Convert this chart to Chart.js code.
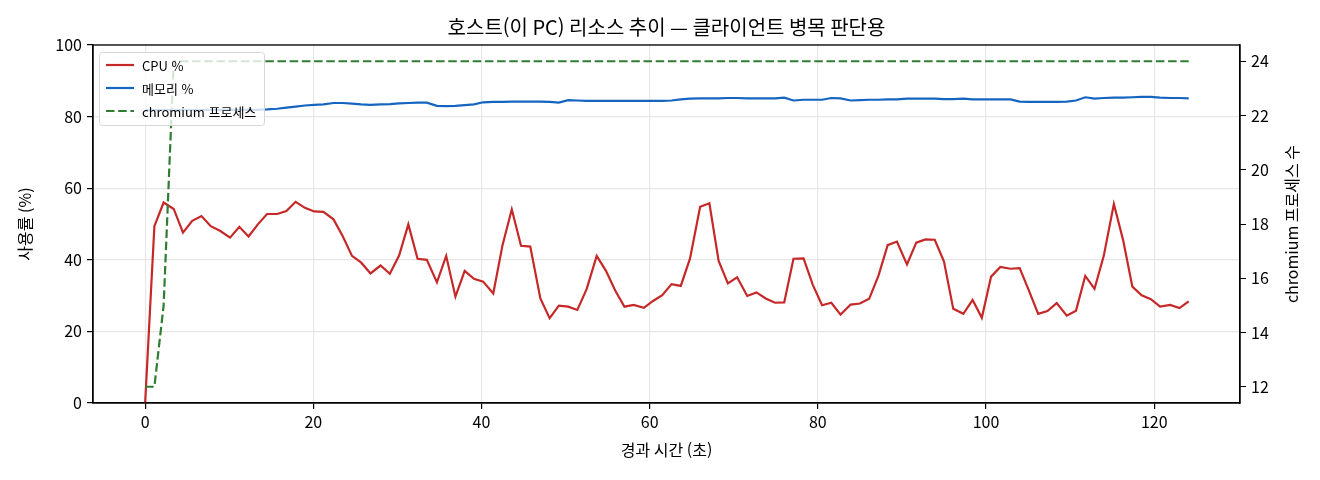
<!DOCTYPE html>
<html lang="ko">
<head>
<meta charset="utf-8">
<title>호스트(이 PC) 리소스 추이</title>
<script src="https://cdn.jsdelivr.net/npm/chart.js@4.4.1/dist/chart.umd.min.js"></script>
<style>
  html, body { margin: 0; padding: 0; background: #fff; }
  #wrap { width: 1320px; height: 480px; }
</style>
</head>
<body>
<div id="wrap"><canvas id="mycanvas" width="1320" height="480"></canvas></div>
<script>
// 경과 시간 (초) - one sample roughly every 1.1 s
const elapsed = [
  0.0, 1.1, 2.2, 3.4, 4.5, 5.6, 6.7, 7.8, 8.9, 10.1,
  11.2, 12.3, 13.4, 14.5, 15.7, 16.8, 17.9, 19.0, 20.1, 21.2,
  22.4, 23.5, 24.6, 25.7, 26.8, 28.0, 29.1, 30.2, 31.3, 32.4,
  33.5, 34.7, 35.8, 36.9, 38.0, 39.1, 40.2, 41.4, 42.5, 43.6,
  44.7, 45.8, 47.0, 48.1, 49.2, 50.3, 51.4, 52.5, 53.7, 54.8,
  55.9, 57.0, 58.1, 59.3, 60.4, 61.5, 62.6, 63.7, 64.8, 66.0,
  67.1, 68.2, 69.3, 70.4, 71.6, 72.7, 73.8, 74.9, 76.0, 77.1,
  78.3, 79.4, 80.5, 81.6, 82.7, 83.9, 85.0, 86.1, 87.2, 88.3,
  89.4, 90.6, 91.7, 92.8, 93.9, 95.0, 96.1, 97.3, 98.4, 99.5,
  100.6, 101.7, 102.9, 104.0, 105.1, 106.2, 107.3, 108.4, 109.6, 110.7,
  111.8, 112.9, 114.0, 115.2, 116.3, 117.4, 118.5, 119.6, 120.7, 121.9,
  123.0, 124.1
];

const cpuPct = [
  0, 49.4, 56.0, 54.2, 47.6, 50.9, 52.2, 49.4, 48.1, 46.2,
  49.2, 46.5, 49.9, 52.8, 52.8, 53.6, 56.2, 54.5, 53.5, 53.4,
  51.3, 46.6, 41.1, 39.2, 36.2, 38.4, 36.1, 41.2, 49.9, 40.3,
  40.0, 33.7, 41.1, 29.7, 36.9, 34.7, 33.9, 30.6, 44.1, 54.1,
  43.9, 43.7, 29.2, 23.7, 27.2, 26.9, 26.0, 31.8, 41.1, 36.9,
  31.4, 26.9, 27.4, 26.6, 28.5, 30.1, 33.2, 32.7, 40.4, 54.8,
  55.8, 39.7, 33.4, 35.1, 29.9, 30.9, 29.2, 28.0, 28.1, 40.3,
  40.4, 33.0, 27.3, 28.0, 24.7, 27.5, 27.8, 29.1, 35.5, 44.1,
  45.1, 38.7, 44.8, 45.7, 45.6, 39.5, 26.3, 24.9, 28.8, 23.8,
  35.3, 38.0, 37.5, 37.7, 31.4, 24.9, 25.7, 27.9, 24.4, 25.8,
  35.5, 31.9, 41.1, 55.6, 45.5, 32.5, 30.1, 29.0, 26.9, 27.4,
  26.5, 28.4
];

const memPct = [
  81.8, 81.8, 81.8, 81.8, 81.8, 81.8, 81.9, 81.9, 81.9, 81.9,
  81.9, 81.9, 81.9, 82.0, 82.2, 82.5, 82.8, 83.1, 83.3, 83.4,
  83.8, 83.8, 83.6, 83.4, 83.3, 83.4, 83.5, 83.7, 83.8, 83.9,
  83.9, 83.0, 82.9, 83.0, 83.2, 83.4, 84.0, 84.1, 84.1, 84.2,
  84.2, 84.2, 84.2, 84.1, 83.9, 84.6, 84.5, 84.4, 84.4, 84.4,
  84.4, 84.4, 84.4, 84.4, 84.4, 84.4, 84.5, 84.8, 85.0, 85.1,
  85.1, 85.1, 85.2, 85.2, 85.1, 85.1, 85.1, 85.1, 85.3, 84.5,
  84.7, 84.7, 84.7, 85.2, 85.1, 84.5, 84.6, 84.7, 84.7, 84.8,
  84.8, 85.0, 85.0, 85.0, 85.0, 84.9, 84.9, 85.0, 84.8, 84.8,
  84.8, 84.8, 84.8, 84.2, 84.1, 84.1, 84.1, 84.1, 84.2, 84.5,
  85.4, 85.0, 85.2, 85.3, 85.3, 85.4, 85.5, 85.5, 85.3, 85.2,
  85.2, 85.1
];

const chromiumProcs = [
  12, 12, 15, 24, 24, 24, 24, 24, 24, 24, 24, 24, 24, 24, 24, 24, 24, 24, 24, 24,
  24, 24, 24, 24, 24, 24, 24, 24, 24, 24, 24, 24, 24, 24, 24, 24, 24, 24, 24, 24,
  24, 24, 24, 24, 24, 24, 24, 24, 24, 24, 24, 24, 24, 24, 24, 24, 24, 24, 24, 24,
  24, 24, 24, 24, 24, 24, 24, 24, 24, 24, 24, 24, 24, 24, 24, 24, 24, 24, 24, 24,
  24, 24, 24, 24, 24, 24, 24, 24, 24, 24, 24, 24, 24, 24, 24, 24, 24, 24, 24, 24,
  24, 24, 24, 24, 24, 24, 24, 24, 24, 24, 24, 24
];

const xTicks = [0, 20, 40, 60, 80, 100, 120];
const pctTicks = [0, 20, 40, 60, 80, 100];
const procTicks = [12, 14, 16, 18, 20, 22, 24];
const rightLabel = 'chromium 프로세스 수';

const pts = arr => elapsed.map((t, i) => ({ x: t, y: arr[i] }));
const asTicks = list => s => { s.ticks = list.map(v => ({ value: v })); };

const FONT = '"Noto Sans CJK KR", "Noto Sans", sans-serif';
Chart.defaults.font.family = FONT;
Chart.defaults.font.size = 16;
Chart.defaults.color = '#000';

// legend inside the plot (top left), box around the axes, right axis title (bottom-to-top)
const boxAndLegend = {
  id: 'boxAndLegend',
  afterDraw(chart) {
    const { ctx, chartArea: a } = chart;
    ctx.save();
    ctx.strokeStyle = '#000';
    ctx.lineWidth = 1.3;
    ctx.strokeRect(a.left, a.top, a.right - a.left, a.bottom - a.top);

    const x = a.left + 6, y = a.top + 7, w = 165, h = 73;
    ctx.beginPath();
    ctx.roundRect(x + 0.5, y + 0.5, w, h, 3);
    ctx.fillStyle = 'rgba(255,255,255,0.8)';
    ctx.fill();
    ctx.strokeStyle = '#d6d6d6';
    ctx.lineWidth = 1;
    ctx.stroke();

    ctx.font = '13px ' + FONT;
    ctx.textBaseline = 'middle';
    chart.data.datasets.forEach((ds, i) => {
      const ly = y + 13 + i * 23;
      ctx.beginPath();
      ctx.setLineDash(ds.borderDash || []);
      ctx.strokeStyle = ds.borderColor;
      ctx.lineWidth = ds.borderWidth;
      ctx.moveTo(x + 7, ly);
      ctx.lineTo(x + 35, ly);
      ctx.stroke();
      ctx.setLineDash([]);
      ctx.fillStyle = '#000';
      ctx.fillText(ds.label, x + 43, ly + 1);
    });

    ctx.font = '16px ' + FONT;
    ctx.textAlign = 'center';
    ctx.translate(1292, (a.top + a.bottom) / 2);
    ctx.rotate(-Math.PI / 2);
    ctx.fillText(rightLabel, 0, 0);
    ctx.restore();
  }
};

new Chart(document.getElementById('mycanvas'), {
  type: 'line',
  data: {
    datasets: [
      { label: 'CPU %', data: pts(cpuPct), yAxisID: 'y', borderColor: '#c62828', borderWidth: 2.2, order: 2 },
      { label: '메모리 %', data: pts(memPct), yAxisID: 'y', borderColor: '#1565c0', borderWidth: 2.2, order: 1 },
      { label: 'chromium 프로세스', data: pts(chromiumProcs), yAxisID: 'y2', borderColor: '#2e7d32', borderWidth: 2.2, borderDash: [8.5, 3.7], order: 0 }
    ]
  },
  options: {
    responsive: false,
    animation: false,
    devicePixelRatio: 1,
    layout: { padding: 0 },
    elements: { point: { radius: 0 }, line: { tension: 0, fill: false } },
    plugins: {
      legend: { display: false },
      tooltip: { enabled: false },
      title: {
        display: true,
        text: '호스트(이 PC) 리소스 추이 — 클라이언트 병목 판단용',
        fullSize: false,
        color: '#000',
        font: { size: 20, weight: 'normal' },
        padding: { top: 15, bottom: 6 }
      }
    },
    scales: {
      x: {
        type: 'linear', min: -6.2, max: 130.2,
        afterBuildTicks: asTicks(xTicks),
        afterFit: s => { s.height = 77; },
        ticks: { padding: 3, maxRotation: 0 },
        grid: { color: '#e7e7e7', lineWidth: 1.2, tickColor: '#000', tickLength: 6 },
        border: { color: '#000', width: 1.3 },
        title: { display: true, text: '경과 시간 (초)', padding: { top: 0, bottom: 20 } }
      },
      y: {
        position: 'left', min: 0, max: 100,
        afterBuildTicks: asTicks(pctTicks),
        afterFit: s => { s.width = 93; },
        ticks: { padding: 5 },
        grid: { color: '#e7e7e7', lineWidth: 1.2, tickColor: '#000', tickLength: 6 },
        border: { color: '#000', width: 1.3 },
        title: { display: true, text: '사용률 (%)', padding: { top: 15, bottom: 0 } }
      },
      y2: {
        position: 'right', min: 11.4, max: 24.6,
        afterBuildTicks: asTicks(procTicks),
        afterFit: s => { s.width = 80; },
        ticks: { padding: 5 },
        grid: { drawOnChartArea: false, tickColor: '#000', tickLength: 6 },
        border: { color: '#000', width: 1.3 }
      }
    }
  },
  plugins: [boxAndLegend]
});
</script>
</body>
</html>
